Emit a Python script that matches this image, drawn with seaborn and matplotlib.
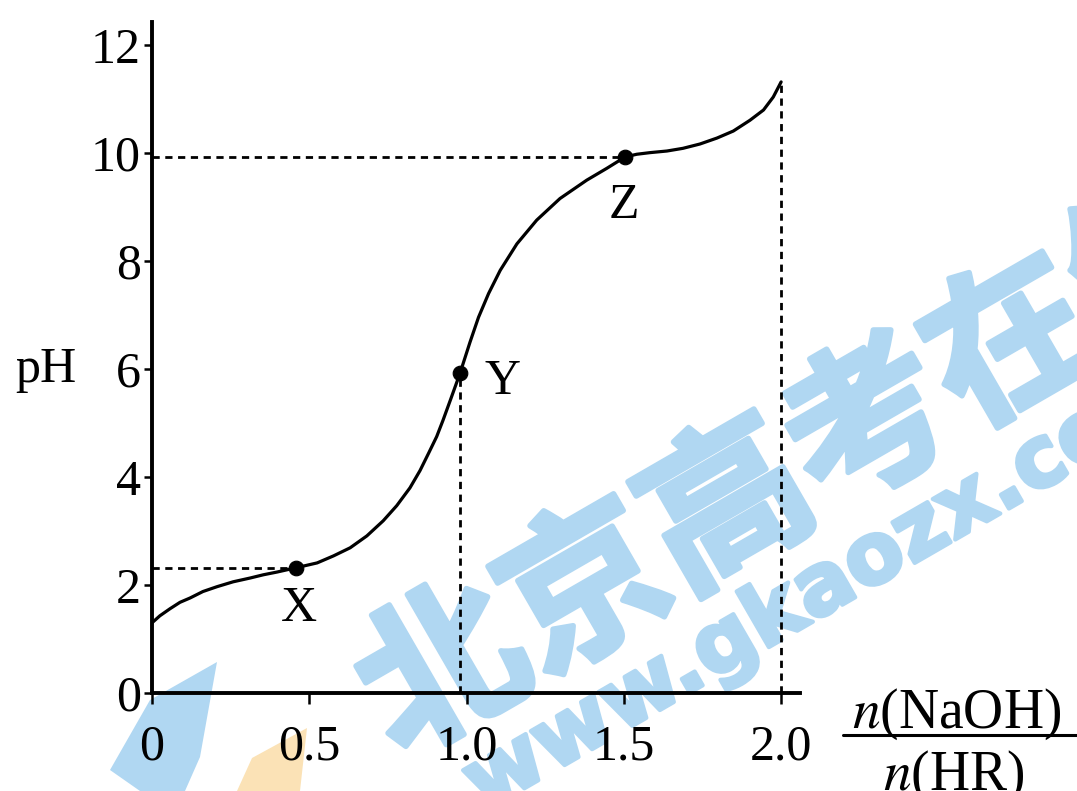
import numpy as np
import pandas as pd
import seaborn as sns
import matplotlib
matplotlib.use("Agg")
import matplotlib.pyplot as plt
import matplotlib.patheffects as pe
from matplotlib.patches import Polygon
from matplotlib.lines import Line2D

# ---- data ----
ratio = [0.000, 0.025, 0.057, 0.089, 0.121, 0.162, 0.207, 0.258, 0.312, 0.354,
         0.397, 0.458, 0.525, 0.577, 0.630, 0.683, 0.735, 0.778, 0.820, 0.852,
         0.880, 0.905, 0.925, 0.950, 0.979, 1.011, 1.038, 1.070, 1.107, 1.160,
         1.223, 1.297, 1.382, 1.446, 1.504, 1.541, 1.583, 1.637, 1.688, 1.742,
         1.796, 1.848, 1.901, 1.944, 1.975, 2.000]
ph = [1.30, 1.43, 1.56, 1.68, 1.76, 1.88, 1.97, 2.06, 2.13, 2.19,
      2.24, 2.32, 2.41, 2.54, 2.69, 2.91, 3.19, 3.47, 3.80, 4.12,
      4.45, 4.75, 5.05, 5.45, 5.92, 6.50, 6.96, 7.40, 7.83, 8.32,
      8.76, 9.16, 9.50, 9.72, 9.93, 9.98, 10.01, 10.04, 10.09, 10.17,
      10.28, 10.41, 10.61, 10.80, 11.04, 11.32]
point_names = ["X", "Y", "Z"]
point_ratio = [0.458, 0.979, 1.504]
point_ph = [2.32, 5.92, 9.93]
end_ratio = 2.0
end_ph = 11.32
x_ticks = [0, 0.5, 1.0, 1.5, 2.0]
x_tick_labels = ["0", "0.5", "1.0", "1.5", "2.0"]
y_ticks = [0, 2, 4, 6, 8, 10, 12]
y_tick_labels = ["0", "2", "4", "6", "8", "10", "12"]

sns.set_theme(style="ticks")
plt.rcParams["font.family"] = ["Liberation Serif", "DejaVu Serif"]
plt.rcParams["mathtext.fontset"] = "stix"

W, H = 1077, 791
fig = plt.figure(figsize=(W / 100, H / 100), dpi=100)
fig.patch.set_facecolor("white")

# ---- watermark (drawn beneath the chart) ----
wm_blue = "#b0d7f2"
wm_orange = "#fbe2b6"
def fx(px):
    return px / W
def fy(py):
    return 1 - py / H

fig.patches.append(Polygon([(fx(217), fy(662)), (fx(200), fy(757)), (fx(185), fy(791)),
                            (fx(140), fy(791)), (fx(110), fy(770)), (fx(150), fy(700))],
                           closed=True, transform=fig.transFigure, facecolor=wm_blue,
                           edgecolor="none", zorder=0))
fig.patches.append(Polygon([(fx(307), fy(728)), (fx(300), fy(791)), (fx(237), fy(791)),
                            (fx(252), fy(758))],
                           closed=True, transform=fig.transFigure, facecolor=wm_orange,
                           edgecolor="none", zorder=0))
fig.text(fx(800), fy(470), "北京高考在线", rotation=30, rotation_mode="anchor",
         ha="center", va="center", fontsize=118, fontweight="bold", color=wm_blue,
         family=["Noto Sans CJK SC", "DejaVu Sans"], zorder=0,
         path_effects=[pe.withStroke(linewidth=4, foreground=wm_blue)])
fig.text(fx(830), fy(585), "www.gkaozx.com", rotation=30, rotation_mode="anchor",
         ha="center", va="center", fontsize=61, fontweight="bold", color=wm_blue,
         family=["DejaVu Sans"], zorder=0,
         path_effects=[pe.withStroke(linewidth=3, foreground=wm_blue)])

# ---- axes ----
ax = fig.add_axes([152 / W, 1 - 693 / H, (800 - 152) / W, (693 - 22) / H])
ax.patch.set_alpha(0)
ax.set_zorder(2)

df = pd.DataFrame({"ratio": ratio, "pH": ph})
sns.lineplot(data=df, x="ratio", y="pH", ax=ax, color="black", lw=2.3,
             sort=False, estimator=None)
ax.lines[-1].set_solid_joinstyle("round")

pts = pd.DataFrame({"ratio": point_ratio, "pH": point_ph, "name": point_names})
sns.scatterplot(data=pts, x="ratio", y="pH", ax=ax, color="black", s=110,
                edgecolor="black", zorder=5, legend=False)

dash = (0, (2.6, 2.0))
dkw = dict(color="black", lw=2.0, linestyle=dash, zorder=3)
# horizontal guides for X and Z, vertical guides for Y and end point
ax.plot([0, point_ratio[0]], [point_ph[0], point_ph[0]], **dkw)
ax.plot([0, point_ratio[2]], [point_ph[2], point_ph[2]], **dkw)
ax.plot([point_ratio[1], point_ratio[1]], [0, point_ph[1]], **dkw)
ax.plot([end_ratio, end_ratio], [0, end_ph], **dkw)

label_off = {"X": (0.009, -0.76), "Y": (0.134, -0.15), "Z": (-0.003, -0.91)}
for n, xr, yp in zip(point_names, point_ratio, point_ph):
    dx, dy = label_off[n]
    ax.text(xr + dx, yp + dy, n, ha="center", va="center", fontsize=36,
            color="black")

ax.set_xlim(0, 2.06)
ax.set_ylim(0, 12.43)
ax.set_xticks(x_ticks)
ax.set_xticklabels(x_tick_labels)
ax.set_yticks(y_ticks)
ax.set_yticklabels(y_tick_labels)
ax.set_xlabel("")
ax.set_ylabel("")
sns.despine(ax=ax, top=True, right=True)
for s in ["left", "bottom"]:
    ax.spines[s].set_linewidth(2.8)
    ax.spines[s].set_color("black")
ax.tick_params(axis="y", direction="out", length=6, width=1.8, pad=2,
               labelsize=36, colors="black")
ax.tick_params(axis="x", direction="out", length=8, width=1.8, pad=14,
               labelsize=36, colors="black")

# axis titles
fig.text(fx(15), fy(382), "pH", ha="left", va="baseline", fontsize=36, color="black")
fig.text(fx(852), fy(728), r"$n$(NaOH)", ha="left", va="baseline", fontsize=40,
         color="black")
fig.text(fx(883), fy(790), r"$n$(HR)", ha="left", va="baseline", fontsize=40,
         color="black")
fig.lines.append(Line2D([fx(843), fx(1077)], [fy(735), fy(735)], color="black",
                        lw=2.2, transform=fig.transFigure))

fig.savefig("out.png", dpi=100)
